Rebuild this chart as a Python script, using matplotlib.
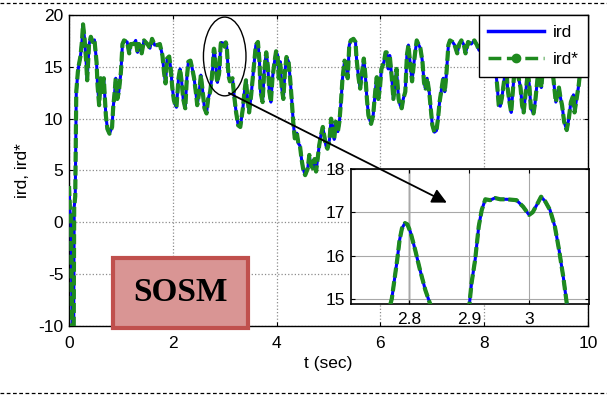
import matplotlib
matplotlib.use("Agg")
import matplotlib.pyplot as plt
from matplotlib.lines import Line2D
from matplotlib.patches import Ellipse, Rectangle

plt.rcParams['font.family'] = ['Liberation Sans', 'DejaVu Sans']
plt.rcParams['axes.unicode_minus'] = False

# Rotor d-axis current (measured) and its reference, SOSM controller
t = [0.00, 0.02, 0.04, 0.06, 0.09, 0.10, 0.12, 0.14, 0.17, 0.19, 0.22, 0.25, 0.27, 0.30,
     0.33, 0.35, 0.385, 0.42, 0.455, 0.49, 0.53, 0.55, 0.58, 0.61, 0.64, 0.67, 0.71, 0.74,
     0.78, 0.83, 0.85, 0.88, 0.90, 0.93, 0.96, 1.00, 1.03, 1.06, 1.12, 1.16, 1.19, 1.25,
     1.285, 1.32, 1.35, 1.40, 1.445, 1.51, 1.56, 1.60, 1.65, 1.70, 1.75, 1.80, 1.83, 1.86,
     1.89, 1.93, 1.96, 1.99, 2.02, 2.05, 2.07, 2.11, 2.14, 2.17, 2.20, 2.24, 2.27, 2.30,
     2.34, 2.38, 2.41, 2.45, 2.47, 2.51, 2.54, 2.57, 2.61, 2.65, 2.68, 2.72, 2.75, 2.771,
     2.776, 2.780, 2.784, 2.788, 2.793, 2.797, 2.802, 2.810, 2.818, 2.827, 2.835, 2.845,
     2.86, 2.875, 2.890, 2.9005, 2.904, 2.910, 2.916, 2.921, 2.927, 2.935, 2.943, 2.952,
     2.963, 2.979, 2.990, 3.000, 3.006, 3.014, 3.020, 3.027, 3.035, 3.043, 3.050, 3.057,
     3.063, 3.08, 3.10, 3.12, 3.15, 3.18, 3.22, 3.26, 3.30, 3.35, 3.38, 3.41, 3.44, 3.47,
     3.51, 3.54, 3.57, 3.60, 3.64, 3.67, 3.69, 3.73, 3.76, 3.80, 3.83, 3.86, 3.89, 3.92,
     3.96, 3.99, 4.02, 4.04, 4.07, 4.10, 4.13, 4.16, 4.19, 4.23, 4.26, 4.29, 4.32, 4.35,
     4.39, 4.42, 4.45, 4.48, 4.51, 4.55, 4.60, 4.63, 4.66, 4.70, 4.73, 4.76, 4.79, 4.82,
     4.85, 4.89, 4.92, 4.95, 4.98, 5.02, 5.05, 5.08, 5.11, 5.14, 5.18, 5.21, 5.24, 5.27,
     5.31, 5.34, 5.37, 5.40, 5.43, 5.48, 5.52, 5.54, 5.58, 5.61, 5.64, 5.68, 5.71, 5.74,
     5.77, 5.82, 5.86, 5.90, 5.93, 5.96, 5.99, 6.02, 6.07, 6.10, 6.12, 6.15, 6.18, 6.22,
     6.25, 6.28, 6.31, 6.35, 6.38, 6.41, 6.44, 6.48, 6.51, 6.54, 6.57, 6.61, 6.64, 6.67,
     6.70, 6.74, 6.77, 6.81, 6.84, 6.87, 6.90, 6.94, 6.97, 7.00, 7.04, 7.08, 7.11, 7.14,
     7.18, 7.21, 7.24, 7.27, 7.31, 7.34, 7.39, 7.43, 7.48, 7.52, 7.56, 7.61, 7.64, 7.69,
     7.75, 7.81, 7.86, 7.90, 7.95, 8.00, 8.05, 8.10, 8.15, 8.20, 8.25, 8.28, 8.31, 8.34,
     8.38, 8.42, 8.45, 8.48, 8.52, 8.55, 8.58, 8.62, 8.66, 8.70, 8.73, 8.76, 8.80, 8.84,
     8.87, 8.90, 8.95, 8.98, 9.02, 9.06, 9.10, 9.13, 9.17, 9.22, 9.27, 9.32, 9.36, 9.38,
     9.41, 9.44, 9.47, 9.50, 9.54, 9.59, 9.63, 9.67, 9.72, 9.74, 9.78, 9.82, 9.86, 9.90,
     9.95, 10.0]

ird_ref = [3.5, 1.0, 0.5, -10.5, -10.5, 1.5, 2.5, 12.6, 14.5, 15.2, 16.0, 17.5, 19.1, 17.7,
           15.5, 13.7, 17.1, 17.9, 17.4, 17.6, 15.5, 13.2, 11.3, 13.9, 12.6, 13.9, 10.3, 9.0,
           8.55, 9.2, 11.0, 12.6, 13.9, 11.9, 12.6, 14.5, 17.2, 17.55, 17.4, 16.3, 17.2, 17.2,
           17.55, 16.4, 17.2, 16.3, 17.55, 17.2, 16.8, 17.7, 17.1, 17.1, 17.2, 16.1, 14.5, 13.4,
           15.8, 16.0, 14.8, 13.0, 11.8, 11.3, 11.1, 13.9, 14.8, 13.6, 11.9, 11.0, 13.9, 15.5,
           15.6, 14.7, 13.9, 12.3, 11.3, 12.6, 14.2, 12.9, 11.0, 10.5, 11.9, 12.6, 13.9, 15.0,
           15.51, 15.9, 16.36, 16.63, 16.75, 16.72, 16.55, 16.13, 15.67, 15.2, 14.88, 13.9,
           13.5, 14.0, 14.3, 14.88, 15.36, 15.9, 16.67, 17.05, 17.3, 17.28, 17.33, 17.3,
           17.3, 17.28, 17.13, 16.94, 17.0, 17.2, 17.36, 17.25, 17.05, 16.67, 16.13, 15.51,
           14.88, 14.0, 13.6, 13.7, 13.9, 12.3, 10.6, 9.35, 9.2, 11.0, 12.6, 13.7, 11.9, 10.6,
           12.3, 13.9, 15.5, 17.1, 17.4, 15.5, 12.6, 11.6, 14.5, 16.4, 15.1, 12.6, 11.6, 13.9,
           15.5, 16.5, 16.1, 13.9, 15.5, 12.9, 11.9, 14.5, 15.95, 15.5, 13.9, 11.9, 9.7, 8.1,
           8.6, 7.6, 7.4, 6.1, 5.2, 4.55, 5.2, 6.5, 5.5, 5.2, 6.1, 4.9, 6.1, 7.4,
           8.3, 9.2, 8.3, 7.4, 7.1, 8.0, 10.0, 9.2, 8.0, 9.7, 8.75, 9.7, 11.6, 13.9,
           15.6, 15.1, 13.9, 17.1, 17.55, 17.7, 17.4, 15.8, 13.9, 12.9, 14.2, 15.8, 14.2, 11.9,
           10.3, 9.5, 10.3, 12.6, 14.0, 11.9, 12.9, 14.8, 15.5, 16.4, 16.4, 14.8, 16.1, 13.9,
           11.9, 13.2, 14.8, 11.9, 11.3, 11.0, 11.9, 12.6, 16.1, 17.1, 15.5, 13.6, 15.1, 16.4,
           17.55, 17.1, 16.8, 15.5, 13.5, 12.9, 13.9, 12.6, 11.0, 9.4, 8.7, 8.85, 10.0, 11.6,
           12.9, 13.9, 12.6, 14.2, 17.1, 17.55, 17.4, 17.1, 16.3, 17.2, 17.55, 17.1, 16.3, 17.4,
           17.2, 17.55, 17.1, 16.6, 17.3, 16.8, 17.2, 16.5, 14.5, 15.8, 13.2, 11.3, 11.2, 12.0,
           13.5, 15.5, 13.0, 11.8, 10.6, 12.5, 14.5, 16.0, 14.0, 13.0, 11.3, 10.6, 12.5, 14.5,
           13.2, 11.0, 10.5, 11.5, 13.5, 15.5, 13.0, 14.8, 16.5, 15.0, 16.2, 14.5, 12.5, 11.6,
           12.3, 13.0, 12.0, 11.3, 9.7, 8.9, 10.0, 11.6, 12.3, 10.6, 11.9, 13.2, 15.0, 16.5,
           15.5, 16.0]

# the measured current tracks the reference with no visible error
ird = ird_ref

x_ticks = [0, 2, 4, 6, 8, 10]
y_ticks = [-10, -5, 0, 5, 10, 15, 20]
zoom_x_ticks = [2.8, 2.9, 3.0]
zoom_x_labels = ['2.8', '2.9', '3']
zoom_y_ticks = [15, 16, 17, 18]

BLUE = '#0000ff'
GREEN = '#1e8a1e'
FS = 12.5

fig = plt.figure(figsize=(6.07, 3.96), dpi=100)
ax = fig.add_axes([0.1137, 0.1768, 0.8550, 0.7853])


def draw_series(a):
    a.plot(t, ird, color=BLUE, lw=2.2, solid_capstyle='butt', zorder=3)
    a.plot(t, ird_ref, color=GREEN, lw=3.0, dashes=(2.4, 0.9), zorder=4)


draw_series(ax)
ax.set_xlim(0, 10)
ax.set_ylim(-10, 20)
ax.set_xticks(x_ticks)
ax.set_yticks(y_ticks)
ax.tick_params(direction='in', length=3, width=0.8, top=True, right=True, labelsize=FS)
ax.tick_params(axis='x', pad=7)
ax.tick_params(axis='y', pad=4)
ax.grid(True, ls=':', color='#8c8c8c', lw=0.9)
for s in ax.spines.values():
    s.set_linewidth(1.0)
ax.set_xlabel('t (sec)', fontsize=FS, labelpad=4)
ax.set_ylabel('ird, ird*', fontsize=FS, labelpad=6)

leg_handles = [Line2D([], [], color=BLUE, lw=2.5),
               Line2D([], [], color=GREEN, lw=2.5, ls='--', marker='o', markersize=6)]
leg = ax.legend(leg_handles, ['ird', 'ird*'], loc='upper right', fontsize=FS,
                fancybox=False, framealpha=1, edgecolor='black', borderaxespad=0,
                handlelength=3.2, labelspacing=0.7, borderpad=0.55, handletextpad=0.5)
leg.get_frame().set_linewidth(1.0)
leg.set_zorder(6)

# zoom highlight around t = 3 s
ax.add_patch(Ellipse((3.0, 16.0), 0.82, 7.6, fill=False, ec='black', lw=1.0, zorder=5))

# SOSM tag
ax.add_patch(Rectangle((0.848, -10.18), 2.60, 6.75, fc='#d99594', ec='#c0504d', lw=3,
                       clip_on=False, zorder=7))
ax.text(2.15, -6.8, 'SOSM', family=['Liberation Serif', 'DejaVu Serif'], fontweight='bold',
        fontsize=24, ha='center', va='center', zorder=8)

# zoomed inset
axin = fig.add_axes([0.5783, 0.2323, 0.3921, 0.3409])
draw_series(axin)
axin.set_xlim(2.703, 3.1)
axin.set_ylim(14.88, 18.0)
axin.set_xticks(zoom_x_ticks)
axin.set_xticklabels(zoom_x_labels)
axin.set_yticks(zoom_y_ticks)
axin.tick_params(direction='in', length=3, width=0.8, top=True, right=True, labelsize=FS)
axin.tick_params(axis='x', pad=6)
axin.tick_params(axis='y', pad=4)
axin.grid(True, ls='-', color='#a8a8a8', lw=0.8)
axin.axvline(2.8, color='#333333', lw=1.0, zorder=1)
for s in axin.spines.values():
    s.set_linewidth(1.2)

axin.annotate('', xy=(7.28, 1.9), xycoords=ax.transData,
              xytext=(3.08, 12.48), textcoords=ax.transData,
              arrowprops=dict(arrowstyle='-|>', color='black', lw=1.3, mutation_scale=22,
                              shrinkA=0, shrinkB=0))

# dashed frame lines
fig.add_artist(Line2D([0, 1], [0.992, 0.992], transform=fig.transFigure,
                      color='black', lw=0.9, ls=(0, (3, 2))))
fig.add_artist(Line2D([0, 1], [0.008, 0.008], transform=fig.transFigure,
                      color='black', lw=0.9, ls=(0, (3, 2))))

fig.savefig('out.png', dpi=100)
